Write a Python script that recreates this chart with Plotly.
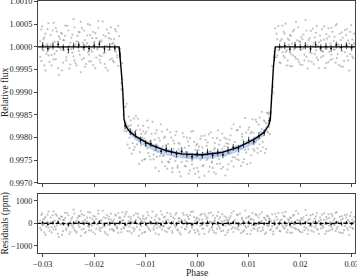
import numpy as np
import plotly.graph_objects as go

# ---------------- data ----------------
# raw phases (units of 1e-5)
phase_raw_e5 = [
    -3048,-3027,-3009,-2986,-2968,-2947,-2929,-2906,-2888,-2867,
    -2846,-2827,-2805,-2788,-2766,-2745,-2727,-2704,-2686,-2665,
    -2644,-2626,-2603,-2585,-2564,-2543,-2525,-2502,-2484,-2463,
    -2442,-2424,-2401,-2383,-2362,-2341,-2323,-2300,-2282,-2261,
    -2240,-2222,-2199,-2181,-2160,-2139,-2121,-2098,-2080,-2059,
    -2038,-2020,-1997,-1979,-1958,-1937,-1919,-1896,-1878,-1857,
    -1836,-1818,-1795,-1777,-1756,-1735,-1717,-1694,-1676,-1655,
    -1634,-1616,-1593,-1575,-1554,-1533,-1515,-1492,-1474,-1453,
    -1432,-1414,-1391,-1373,-1352,-1331,-1313,-1290,-1272,-1251,
    -1230,-1212,-1189,-1171,-1150,-1129,-1111,-1088,-1070,-1049,
    -1028,-1010,-987,-969,-948,-927,-909,-886,-868,-847,
    -826,-808,-785,-767,-746,-725,-707,-684,-666,-645,
    -624,-606,-583,-565,-544,-523,-505,-482,-464,-443,
    -422,-404,-381,-363,-342,-321,-303,-280,-262,-241,
    -220,-202,-179,-161,-140,-119,-101,-78,-60,-39,
    -18,0,23,41,62,83,101,124,142,163,
    184,202,225,243,264,285,303,326,344,365,
    386,404,427,445,466,487,505,528,546,567,
    588,606,629,647,668,689,707,730,748,769,
    790,808,831,849,870,891,909,932,950,971,
    992,1010,1033,1051,1072,1093,1111,1134,1152,1173,
    1194,1212,1235,1253,1274,1295,1313,1336,1354,1375,
    1396,1414,1437,1455,1476,1497,1515,1538,1556,1577,
    1598,1616,1639,1657,1678,1699,1717,1740,1758,1779,
    1800,1818,1841,1859,1880,1901,1919,1942,1960,1981,
    2002,2020,2043,2061,2082,2103,2121,2144,2162,2183,
    2204,2222,2245,2263,2284,2305,2323,2346,2364,2385,
    2406,2424,2447,2465,2486,2507,2525,2548,2566,2587,
    2608,2626,2649,2667,2688,2709,2727,2750,2768,2789,
    2810,2828,2851,2869,2890,2911,2929,2952,2970,2991,
    3012,3030,3048,
]

# residuals of raw points, first exposure set (ppm)
resid_a = [
    120,-310,450,-80,210,-520,30,390,-190,-40,
    260,-410,80,530,-150,-270,340,10,-620,180,
    -60,290,-350,140,470,-230,-20,360,-480,90,
    200,-130,610,-300,50,-410,240,-90,320,-560,
    410,-20,-250,150,-380,80,500,-170,260,-320,
    -110,330,40,-470,190,-60,420,-290,110,-210,
    560,-140,-380,230,20,-520,300,-70,170,-260,
    80,-340,390,-110,-230,460,-30,250,-400,130,
    -190,300,-60,510,-350,90,-140,270,-450,20,
    360,-250,140,-30,420,-560,210,-120,60,330,
    -400,180,-70,490,-210,40,-330,250,-10,-290,
    150,-460,380,-90,220,-170,540,-280,70,-120,
    300,-30,-390,160,-240,430,10,-350,260,-80,
    -180,470,-320,90,210,-500,140,-20,380,-260,
    50,-150,290,-420,360,-60,-210,520,-300,110,
    -40,240,-370,180,-110,410,-250,30,-470,320,
    190,-90,440,-280,60,-190,350,-410,120,-30,
    -240,500,-140,270,-360,80,-20,310,-530,170,
    90,-300,230,-60,460,-180,-390,140,40,-250,
    380,-110,-20,-440,250,110,-320,570,-200,30,
    -150,320,-480,200,-80,150,-260,410,-40,-350,
    260,-190,60,490,-310,-10,220,-420,340,-130,
    -70,180,-270,400,-500,130,-30,290,-190,460,
    20,-360,170,-120,330,-240,510,-80,-300,150,
    -420,240,70,-190,380,-30,-260,140,430,-340,
    110,-60,-400,270,-170,590,-220,40,-310,190,
    350,-140,20,-380,210,-80,460,-290,100,-40,
    -230,390,-110,160,-470,280,-20,-340,230,70,
    420,-270,130,-60,-350,500,-160,30,290,-430,
    -90,200,-310,370,60,-210,140,-520,330,-30,
    160,-250,80,
]

# residuals of raw points, second exposure set (ppm)
resid_b = [
    -220,380,-60,170,-410,290,-150,60,520,-330,
    40,-180,360,-280,110,410,-90,-470,230,-20,
    310,-520,150,-70,240,-300,460,-130,20,-390,
    -50,270,-210,430,-360,120,-10,330,-170,550,
    -280,90,360,-440,20,250,-120,-320,480,-60,
    190,-400,110,300,-240,-30,570,-190,-350,140,
    -10,260,-130,-460,380,-70,190,-280,430,60,
    -310,170,-50,340,-180,-420,250,80,-260,490,
    130,-220,410,-100,-30,300,-370,160,50,-200,
    -330,80,450,-160,270,-40,-290,130,-450,210,
    60,-380,240,-120,350,-270,90,-10,520,-190,
    -90,300,-210,40,-510,170,-60,390,-140,260,
    -350,120,470,-230,30,-160,320,-440,80,200,
    390,-100,-280,230,-410,60,-180,460,-40,140,
    -270,370,-30,190,-350,510,-130,-60,280,-420,
    210,-290,110,-500,350,-70,160,-230,420,-20,
    -120,260,-380,50,480,-170,-310,90,230,-450,
    330,-60,180,-240,-20,410,-330,120,-90,270,
    -410,150,-70,320,-260,40,540,-200,-30,380,
    -160,-290,430,-50,190,-380,60,-130,240,-470,
    280,-40,170,-320,460,-210,30,-90,350,-250,
    -30,400,-360,110,-190,260,-480,150,-60,310,
    220,-300,90,-140,-370,50,420,-230,170,-80,
    -340,130,-20,470,-200,290,-110,-410,180,50,
    260,-150,-430,340,-60,-220,550,-10,-280,120,
    -390,220,170,-40,-300,80,360,-480,150,-120,
    -60,-330,400,90,-160,310,-240,20,-470,250,
    140,-90,-200,450,-20,-360,180,410,-110,-290,
    -170,330,-60,220,470,-250,60,-400,-20,150,
    320,-440,10,-120,260,390,-300,70,-160,480,
    -210,40,290,
]

# binned points
bin_phase = [-0.030,-0.029,-0.028,-0.027,-0.026,-0.025,-0.024,-0.023,-0.022,-0.021,
             -0.020,-0.019,-0.018,-0.017,-0.016,-0.015,-0.014,-0.013,-0.012,-0.011,
             -0.010,-0.009,-0.008,-0.007,-0.006,-0.005,-0.004,-0.003,-0.002,-0.001,
             0.000,0.001,0.002,0.003,0.004,0.005,0.006,0.007,0.008,0.009,
             0.010,0.011,0.012,0.013,0.014,0.015,0.016,0.017,0.018,0.019,
             0.020,0.021,0.022,0.023,0.024,0.025,0.026,0.027,0.028,0.029,0.030]
bin_resid = [30,-40,10,55,-20,-60,15,40,-10,-35,
             20,60,-45,5,-25,35,-55,10,45,-15,
             -30,25,0,-50,40,15,-20,55,-5,-40,
             30,-10,50,-35,20,-60,5,35,-25,10,
             45,-45,15,-15,60,-30,0,25,-50,35,
             -5,20,-40,50,-20,10,-35,40,-10,25,-15]
bin_err = 75

# transit model
model_phase = [-0.0310,-0.01516,-0.0148,-0.01446,-0.0142,-0.0139,-0.0135,-0.0130,-0.0120,-0.0110,
               -0.0100,-0.0090,-0.0080,-0.0070,-0.0060,-0.0050,-0.0040,-0.0030,-0.0020,-0.0010,
               0.0,
               0.0010,0.0020,0.0030,0.0040,0.0050,0.0060,0.0070,0.0080,0.0090,0.0100,
               0.0110,0.0120,0.0130,0.0135,0.0139,0.0142,0.01446,0.0148,0.01516,0.0310]
model_flux = [1.0,1.0,0.99955,0.99905,0.99840,0.99827,0.99819,0.99812,0.99803,0.99796,
              0.99790,0.99784,0.99779,0.99775,0.99771,0.99768,0.99766,0.99764,0.99763,0.99762,
              0.99762,
              0.99762,0.99763,0.99764,0.99766,0.99768,0.99771,0.99775,0.99779,0.99784,0.99790,
              0.99796,0.99803,0.99812,0.99819,0.99827,0.99840,0.99905,0.99955,1.0,1.0]

# model uncertainty band (in transit)
band_phase = [-0.0142,-0.0130,-0.0120,-0.0100,-0.0080,-0.0060,-0.0040,-0.0020,0.0,
              0.0020,0.0040,0.0060,0.0080,0.0100,0.0120,0.0130,0.0142]
band_hi = [0.99845,0.99817,0.99807,0.99794,0.99783,0.99775,0.99770,0.99767,0.99766,
           0.99767,0.99770,0.99775,0.99783,0.99794,0.99807,0.99817,0.99845]
band_lo = [0.99832,0.99805,0.99794,0.99780,0.99769,0.99761,0.99756,0.99753,0.99752,
           0.99753,0.99756,0.99761,0.99769,0.99780,0.99794,0.99805,0.99832]

# ---------------- derived ----------------
ph = np.array(phase_raw_e5) * 1e-5
ph_all = np.concatenate([ph, ph])
res_all = np.array(resid_a + resid_b, dtype=float)
flux_all = np.interp(ph_all, model_phase, model_flux) + res_all * 1e-6
bph = np.array(bin_phase)
bflux = np.interp(bph, model_phase, model_flux) + np.array(bin_resid) * 1e-6

FONT = "Liberation Serif"
AX = "#444444"
PT = "rgba(120,120,120,0.45)"

fig = go.Figure()

# --- top panel ---
fig.add_trace(go.Scatter(x=ph_all, y=flux_all, mode="markers", xaxis="x2", yaxis="y2",
                         marker=dict(size=2.2, color=PT, line=dict(width=0)),
                         hoverinfo="skip", showlegend=False))
fig.add_trace(go.Scatter(x=band_phase + band_phase[::-1], y=band_hi + band_lo[::-1],
                         xaxis="x2", yaxis="y2", fill="toself", mode="lines",
                         line=dict(width=0), fillcolor="rgba(140,175,235,0.55)",
                         hoverinfo="skip", showlegend=False))
fig.add_trace(go.Scatter(x=model_phase, y=model_flux, mode="lines", xaxis="x2", yaxis="y2",
                         line=dict(color="black", width=1.4), showlegend=False))
fig.add_trace(go.Scatter(x=bph, y=bflux, mode="markers", xaxis="x2", yaxis="y2",
                         marker=dict(size=1.8, color="black"),
                         error_y=dict(type="constant", value=bin_err * 1e-6, color="black",
                                      thickness=0.7, width=0),
                         showlegend=False))

# --- residual panel ---
fig.add_trace(go.Scatter(x=ph_all, y=res_all, mode="markers", xaxis="x", yaxis="y",
                         marker=dict(size=2.2, color=PT, line=dict(width=0)),
                         hoverinfo="skip", showlegend=False))
fig.add_trace(go.Scatter(x=[-0.0310, 0.0310], y=[0, 0], mode="lines", xaxis="x", yaxis="y",
                         line=dict(color="black", width=1.2, dash="4px,2px"), showlegend=False))
fig.add_trace(go.Scatter(x=bph, y=bin_resid, mode="markers", xaxis="x", yaxis="y",
                         marker=dict(size=1.8, color="black"),
                         error_y=dict(type="constant", value=bin_err, color="black",
                                      thickness=0.7, width=0),
                         showlegend=False))

axis_common = dict(showline=True, mirror=True, linecolor=AX, linewidth=1,
                   ticks="outside", ticklen=3, tickcolor=AX, tickwidth=1,
                   showgrid=False, zeroline=False, automargin=False,
                   ticklabeloverflow="allow",
                   tickfont=dict(family=FONT, size=8.3, color="#222"))

TITLE_FONT = dict(family=FONT, size=9.5, color="#222")

fig.update_layout(
    width=357, height=276,
    margin=dict(l=38, r=2, t=1, b=23),
    paper_bgcolor="white", plot_bgcolor="white",
    font=dict(family=FONT, size=9, color="#222"),
    xaxis=dict(domain=[0, 1], anchor="y", range=[-0.03091, 0.03064],
               tickvals=[-0.03, -0.02, -0.01, 0.0, 0.01, 0.02, 0.03], tickformat=".2f",
               **axis_common),
    yaxis=dict(domain=[0, 0.234], anchor="x", range=[-1330, 1310],
               tickvals=[-1000, 0, 1000],
               **axis_common),
    xaxis2=dict(domain=[0, 1], anchor="y2", matches="x", range=[-0.03091, 0.03064],
                tickvals=[-0.03, -0.02, -0.01, 0.0, 0.01, 0.02, 0.03], showticklabels=False,
                **axis_common),
    yaxis2=dict(domain=[0.278, 1.0], anchor="x2", range=[0.99700, 1.00101],
                tickvals=[0.9970, 0.9975, 0.9980, 0.9985, 0.9990, 0.9995, 1.0000, 1.0005, 1.0010],
                tickformat=".4f",
                **axis_common),
    annotations=[
        dict(text="Phase", xref="paper", yref="paper", x=(197 - 38) / 317, y=-(272.5 - 253) / 252,
             xanchor="center", yanchor="middle", showarrow=False, font=TITLE_FONT),
        dict(text="Relative flux", xref="paper", yref="paper", x=-(38 - 5) / 317, y=(253 - 92) / 252,
             xanchor="center", yanchor="middle", textangle=-90, showarrow=False, font=TITLE_FONT),
        dict(text="Residuals (ppm)", xref="paper", yref="paper", x=-(38 - 5) / 317, y=(253 - 223.5) / 252,
             xanchor="center", yanchor="middle", textangle=-90, showarrow=False, font=TITLE_FONT),
    ],
)

fig.write_html("out.html", config={"displayModeBar": False},
               post_script="document.body.style.margin='0';")
